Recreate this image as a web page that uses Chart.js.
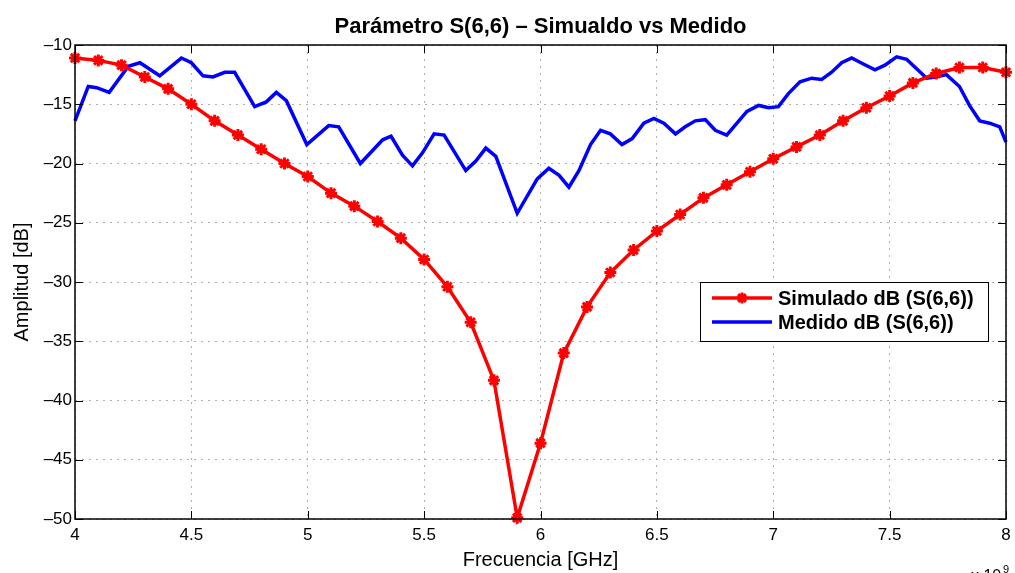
<!DOCTYPE html>
<html><head><meta charset="utf-8">
<script src="https://cdn.jsdelivr.net/npm/chart.js@4.4.0/dist/chart.umd.min.js"></script>
<style>html,body{margin:0;padding:0;background:#fff;}#wrap{position:relative;width:1015px;height:573px;}</style>
</head><body><div id="wrap"><canvas id="c" width="1015" height="573"></canvas></div>
<script>
const simFreq = [4.0,4.1,4.2,4.3,4.4,4.5,4.6,4.7,4.8,4.9,5.0,5.1,5.2,5.3,5.4,5.5,5.6,5.7,5.8,5.9,6.0,6.1,6.2,6.3,6.4,6.5,6.6,6.7,6.8,6.9,7.0,7.1,7.2,7.3,7.4,7.5,7.6,7.7,7.8,7.9,8.0];
const simDb = [-11.1,-11.3,-11.7,-12.7,-13.7,-15.0,-16.4,-17.6,-18.8,-20.0,-21.1,-22.5,-23.6,-24.9,-26.3,-28.1,-30.4,-33.4,-38.3,-49.9,-43.6,-36.0,-32.1,-29.2,-27.3,-25.7,-24.3,-22.9,-21.8,-20.7,-19.6,-18.6,-17.6,-16.4,-15.3,-14.3,-13.2,-12.4,-11.9,-11.9,-12.3];
const measFreq = [4.000,4.057,4.093,4.147,4.229,4.279,4.364,4.457,4.500,4.550,4.593,4.643,4.686,4.772,4.822,4.865,4.908,4.996,5.090,5.133,5.226,5.322,5.358,5.407,5.450,5.493,5.543,5.586,5.679,5.722,5.765,5.808,5.900,5.986,6.036,6.080,6.122,6.165,6.215,6.258,6.300,6.350,6.394,6.444,6.487,6.530,6.580,6.622,6.665,6.708,6.751,6.800,6.887,6.937,6.980,7.022,7.065,7.115,7.165,7.208,7.251,7.294,7.337,7.387,7.437,7.480,7.530,7.573,7.616,7.659,7.700,7.744,7.800,7.843,7.887,7.930,7.973,8.000];
const measDb = [-16.4,-13.5,-13.6,-14.0,-11.8,-11.5,-12.6,-11.1,-11.5,-12.6,-12.7,-12.3,-12.3,-15.2,-14.8,-14.0,-14.7,-18.4,-16.8,-16.9,-20.0,-18.0,-17.7,-19.3,-20.2,-19.1,-17.5,-17.6,-20.6,-19.8,-18.7,-19.4,-24.2,-21.3,-20.4,-21.0,-22.0,-20.6,-18.4,-17.2,-17.5,-18.4,-17.9,-16.6,-16.2,-16.6,-17.5,-16.9,-16.4,-16.3,-17.2,-17.6,-15.6,-15.1,-15.3,-15.2,-14.1,-13.1,-12.8,-12.9,-12.3,-11.5,-11.1,-11.6,-12.1,-11.7,-11.0,-11.2,-12.0,-12.8,-12.7,-12.5,-13.5,-15.1,-16.4,-16.6,-16.9,-18.2];
const xTicks = [4,4.5,5,5.5,6,6.5,7,7.5,8];
const yTicks = [-10,-15,-20,-25,-30,-35,-40,-45,-50];
const seriesNames = ['Simulado dB (S(6,6))','Medido dB (S(6,6))'];
const titleText = 'Parámetro S(6,6) – Simualdo vs Medido';
const xTitle = 'Frecuencia [GHz]';
const yTitle = 'Amplitud [dB]';

const FONT = "'Liberation Sans', Arial, sans-serif";

function drawStar(ctx, x, y, r, color, w){
  ctx.save(); ctx.strokeStyle=color; ctx.lineWidth=w; ctx.lineCap='butt';
  ctx.beginPath();
  ctx.moveTo(x-r,y); ctx.lineTo(x+r,y);
  ctx.moveTo(x,y-r); ctx.lineTo(x,y+r);
  const d=r*0.7071;
  ctx.moveTo(x-d,y-d); ctx.lineTo(x+d,y+d);
  ctx.moveTo(x-d,y+d); ctx.lineTo(x+d,y-d);
  ctx.stroke(); ctx.restore();
}

const decor = {
  id:'decor',
  afterDraw(chart){
    const ctx=chart.ctx, a=chart.chartArea;
    const xs=chart.scales.x, ys=chart.scales.y;
    ctx.save();
    ctx.strokeStyle='#000'; ctx.lineWidth=1.5;
    ctx.strokeRect(a.left, a.top, a.right-a.left, a.bottom-a.top);
    ctx.lineWidth=1;
    ctx.beginPath();
    xTicks.forEach(v=>{const px=Math.round(xs.getPixelForValue(v))+0.5;
      ctx.moveTo(px,a.bottom); ctx.lineTo(px,a.bottom-8);
      ctx.moveTo(px,a.top); ctx.lineTo(px,a.top+8);});
    yTicks.forEach(v=>{const py=Math.round(ys.getPixelForValue(v))+0.5;
      ctx.moveTo(a.left,py); ctx.lineTo(a.left+8,py);
      ctx.moveTo(a.right,py); ctx.lineTo(a.right-8,py);});
    ctx.stroke();
    ctx.fillStyle='#000';
    ctx.textAlign='center'; ctx.textBaseline='alphabetic';
    ctx.font='bold 22px '+FONT;
    ctx.fillText(titleText,(a.left+a.right)/2,33);
    ctx.font='20px '+FONT;
    ctx.fillText(xTitle,(a.left+a.right)/2,566);
    ctx.save(); ctx.translate(28,(a.top+a.bottom)/2); ctx.rotate(-Math.PI/2);
    ctx.fillText(yTitle,0,0); ctx.restore();
    ctx.textAlign='left';
    ctx.font='16px '+FONT;
    ctx.fillText('x 10',971,581);
    ctx.font='11px '+FONT;
    ctx.fillText('9',1003,573);
    const lx=700, ly=282, lw=288, lh=59;
    ctx.fillStyle='#fff'; ctx.fillRect(lx,ly,lw,lh);
    ctx.strokeStyle='#000'; ctx.lineWidth=1;
    ctx.strokeRect(lx+0.5,ly+0.5,lw,lh);
    const rows=[{y:298,color:'#ff0000',star:true},{y:322,color:'#0000ff',star:false}];
    rows.forEach((r,i)=>{
      ctx.strokeStyle=r.color; ctx.lineWidth=3.5;
      ctx.beginPath(); ctx.moveTo(712,r.y); ctx.lineTo(772,r.y); ctx.stroke();
      if(r.star) drawStar(ctx,742,r.y,5.5,r.color,3);
      ctx.fillStyle='#000'; ctx.font='bold 20px '+FONT; ctx.textBaseline='middle'; ctx.textAlign='left';
      ctx.fillText(seriesNames[i],778,r.y+1);
    });
    ctx.restore();
  }
};

new Chart(document.getElementById('c'),{
  type:'line',
  data:{datasets:[
    {label:seriesNames[0],data:simFreq.map((f,i)=>({x:f,y:simDb[i]})),borderColor:'#ff0000',backgroundColor:'#ff0000',
     borderWidth:3.5,pointStyle:'star',pointRadius:6,pointBorderWidth:3,pointBorderColor:'#ff0000',pointBackgroundColor:'#ff0000',
     tension:0,clip:false,order:1},
    {label:seriesNames[1],data:measFreq.map((f,i)=>({x:f,y:measDb[i]})),borderColor:'#0000ff',backgroundColor:'#0000ff',
     borderWidth:3.5,pointRadius:0,tension:0,clip:false,order:2}
  ]},
  options:{
    responsive:false,animation:false,devicePixelRatio:1,
    layout:{padding:{top:45,right:7,left:0,bottom:0}},
    plugins:{legend:{display:false},title:{display:false},tooltip:{enabled:false}},
    scales:{
      x:{type:'linear',min:4,max:8,
        afterBuildTicks:s=>{s.ticks=xTicks.map(v=>({value:v}));},
        afterFit:s=>{s.height=54;s.paddingLeft=0;s.paddingRight=0;},
        ticks:{color:'#000',font:{family:FONT,size:17},padding:6,maxRotation:0,autoSkip:false,callback:v=>String(v)},
        grid:{color:'#b0b0b0',lineWidth:1,drawTicks:false},
        border:{display:false,dash:[2,5]}},
      y:{type:'linear',min:-50,max:-10,
        afterBuildTicks:s=>{s.ticks=yTicks.map(v=>({value:v}));},
        afterFit:s=>{s.width=75;s.paddingTop=0;s.paddingBottom=0;},
        ticks:{color:'#000',font:{family:FONT,size:17},padding:3,autoSkip:false,callback:v=>(v<0?'\u2013'+Math.abs(v):String(v))},
        grid:{color:'#b0b0b0',lineWidth:1,drawTicks:false},
        border:{display:false,dash:[2,5]}}
    }
  },
  plugins:[decor]
});
</script></body></html>
